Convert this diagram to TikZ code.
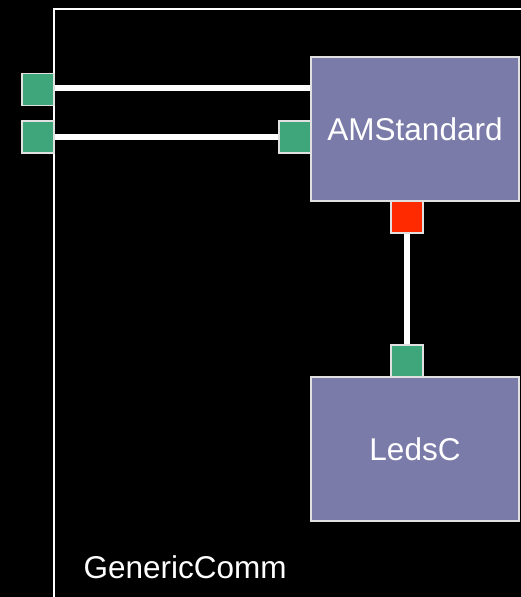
\documentclass[tikz,border=0pt]{standalone}
\usepackage{fontspec}
\setmainfont{Liberation Sans}
\definecolor{boxfill}{RGB}{123,123,170}
\definecolor{portgreen}{RGB}{63,165,122}
\definecolor{portred}{RGB}{255,42,0}
\definecolor{edgegray}{RGB}{225,225,225}
\tikzset{
  x=1pt, y=1pt,
  component/.style={draw=edgegray, line width=2pt, fill=boxfill, minimum width=208pt,
    minimum height=144pt, inner sep=0pt, text=white, font=\fontsize{31.5}{34}\selectfont},
  port/.style={draw=edgegray, line width=1.2pt, minimum size=32pt, inner sep=0pt},
  inport/.style={port, fill=portgreen},
  outport/.style={port, fill=portred},
  wire/.style={white, line width=6pt},
  frame/.style={white, line width=2pt}
}
\begin{document}
\begin{tikzpicture}
  \useasboundingbox (0,0) rectangle (521,597);
  \clip (0,0) rectangle (521,597);
  \fill[black] (0,0) rectangle (521,597);
  % enclosing configuration frame
  \draw[frame] (54,-10) -- (54,588) -- (540,588);
  \node[anchor=base west, text=white, font=\fontsize{31.5}{34}\selectfont] (label) at (80,19) {GenericComm};
  % components and their ports
  \node[component] (am) at (415,468) {AMStandard};
  \node[component] (leds) at (415,148) {LedsC};
  \node[inport] (p1) at (38,507.5) {};
  \node[inport] (p2) at (38,460) {};
  \node[inport] (p3) at (295,460) {};
  \node[outport] (r1) at (407,380) {};
  \node[inport] (g1) at (407,236) {};
  % wires
  \draw[wire] (p1.east |- 0,509) -- (am.west |- 0,509);
  \draw[wire] (p2.east) -- (p3.west);
  \draw[wire] (r1.south) -- (g1.north);
\end{tikzpicture}
\end{document}
